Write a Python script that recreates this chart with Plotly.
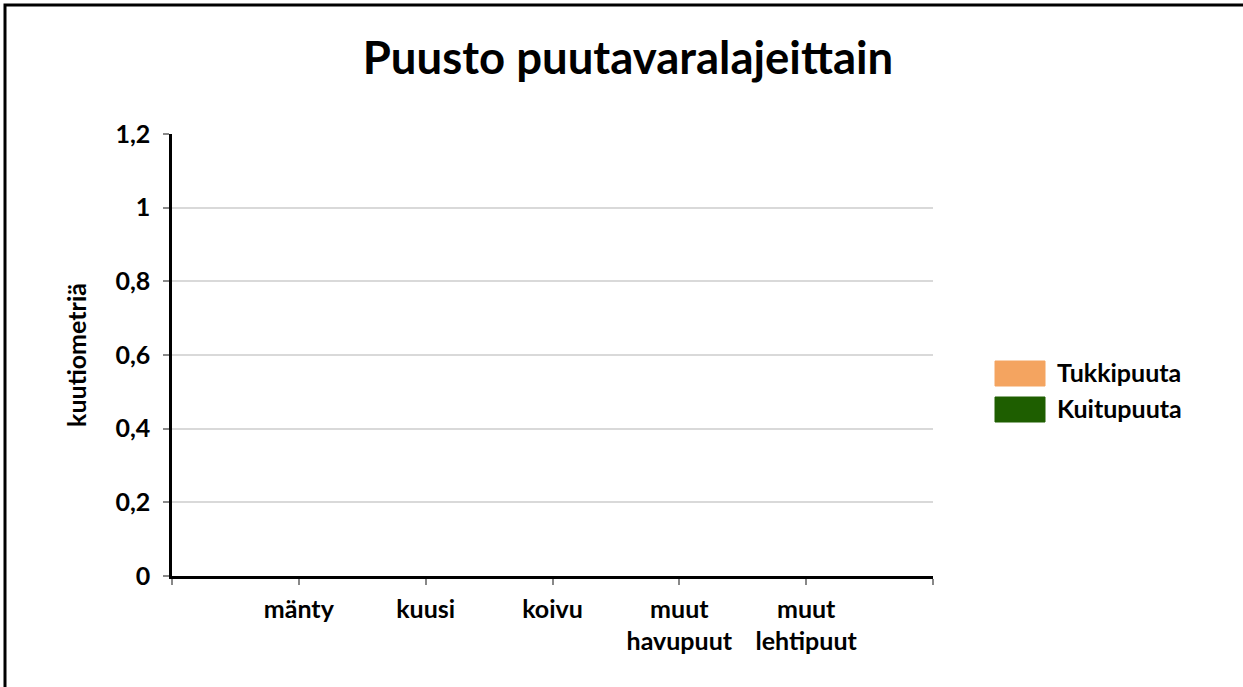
import plotly.graph_objects as go

categories = ["mänty", "kuusi", "koivu", "muut<br>havupuut", "muut<br>lehtipuut"]
tukkipuuta = [0, 0, 0, 0, 0]
kuitupuuta = [0, 0, 0, 0, 0]
series_names = ["Tukkipuuta", "Kuitupuuta"]
series_colors = ["#F4A460", "#1E5E00"]
y_ticks = [0, 0.2, 0.4, 0.6, 0.8, 1, 1.2]
y_ticktext = ["0", "0,2", "0,4", "0,6", "0,8", "1", "1,2"]

W, H = 1243, 687
# plot area in reference pixels: x 172..933, y 134..576
L, R, T, B = 172, 1243 - 933, 134, 687 - 576
pw, ph = W - L - R, H - T - B

FONT = "Lato"
FS = 25
xpos = list(range(1, len(categories) + 1))

fig = go.Figure()
for name, vals, col in zip(series_names, [tukkipuuta, kuitupuuta], series_colors):
    fig.add_trace(go.Bar(x=xpos, y=vals, name=name, marker_color=col, showlegend=False))

def px_x(p):
    return (p - L) / pw

def px_y(p):
    return (H - B - p) / ph

shapes = []
annotations = []
# outer border (top and left visible)
shapes.append(dict(type="rect", xref="paper", yref="paper",
                   x0=px_x(5), x1=px_x(1300), y0=px_y(750), y1=px_y(5),
                   line=dict(color="black", width=3), fillcolor="rgba(0,0,0,0)", layer="below"))
# legend swatches
for i, (name, col) in enumerate(zip(series_names, series_colors)):
    top = 361 + i * 36
    shapes.append(dict(type="rect", xref="paper", yref="paper",
                       x0=px_x(995), x1=px_x(1045), y0=px_y(top + 25), y1=px_y(top),
                       line=dict(color=col, width=1), fillcolor=col))
    annotations.append(dict(xref="paper", yref="paper", x=px_x(1055), y=px_y(top + 10.5),
                            text="<b>" + name + "</b>", showarrow=False, xanchor="left",
                            yanchor="middle", font=dict(family=FONT, size=FS, color="black")))

fig.update_layout(
    width=W, height=H,
    margin=dict(l=L, r=R, t=T, b=B, autoexpand=False),
    paper_bgcolor="white", plot_bgcolor="white",
    barmode="stack",
    title=dict(text="<b>Puusto puutavaralajeittain</b>", x=628 / W, xref="container",
               xanchor="center", y=1 - 58 / H, yanchor="middle",
               font=dict(family=FONT, size=45.5, color="black")),
    font=dict(family=FONT, size=FS, color="black"),
    shapes=shapes, annotations=annotations,
    xaxis=dict(range=[0, len(categories) + 1], tickmode="array",
               tickvals=list(range(0, len(categories) + 2)),
               ticktext=[""] + ["<b>" + c + "</b>" for c in categories] + [""],
               showgrid=False, zeroline=False, showline=True, linecolor="black", linewidth=2.5,
               ticks="outside", ticklen=6, tickcolor="#888888", tickwidth=1.5,
               ticklabelstandoff=3,
               tickfont=dict(family=FONT, size=FS, color="black"), fixedrange=True),
    yaxis=dict(range=[0, 1.2], tickmode="array", tickvals=y_ticks,
               ticktext=["<b>" + t + "</b>" for t in y_ticktext],
               showgrid=True, gridcolor="#D9D9D9", gridwidth=2, zeroline=False,
               showline=True, linecolor="black", linewidth=2.5,
               ticks="outside", ticklen=6, tickcolor="#888888", tickwidth=1.5,
               ticklabelstandoff=8,
               tickfont=dict(family=FONT, size=FS, color="black"),
               title=dict(text="<b>kuutiometriä</b>", font=dict(family=FONT, size=FS, color="black"),
                          standoff=22)),
)

fig.write_html("out.html",
               config={"displayModeBar": False},
               post_script="document.body.style.margin='0';document.body.style.overflow='hidden';")
